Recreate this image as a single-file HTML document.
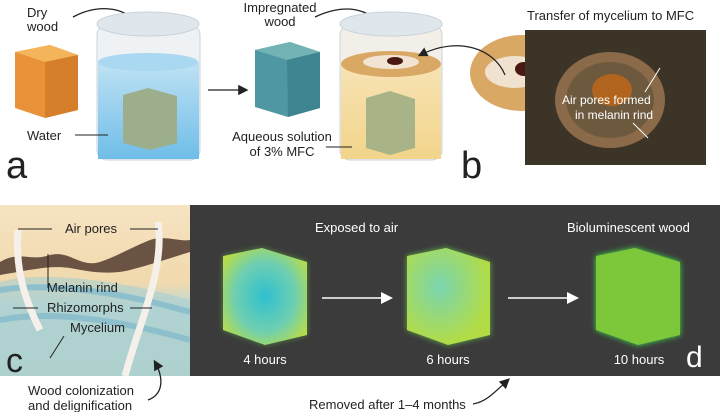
<!DOCTYPE html>
<html><head><meta charset="utf-8"><style>
body{margin:0;background:#fff}
svg{display:block;font-family:"Liberation Sans",sans-serif}
</style></head><body>
<svg width="720" height="412" viewBox="0 0 720 412" xmlns="http://www.w3.org/2000/svg">
<defs>
<linearGradient id="water" x1="0" y1="0" x2="0" y2="1"><stop offset="0" stop-color="#bfe2f4"/><stop offset="1" stop-color="#6fbde8"/></linearGradient>
<linearGradient id="yel" x1="0" y1="0" x2="0" y2="1"><stop offset="0" stop-color="#f7e3b4"/><stop offset="1" stop-color="#f2d48a"/></linearGradient>
<linearGradient id="bgc" x1="0" y1="0" x2="0" y2="1"><stop offset="0" stop-color="#f6e3c2"/><stop offset="0.45" stop-color="#f1d9ad"/><stop offset="0.6" stop-color="#bcd9d6"/><stop offset="1" stop-color="#b7d3c9"/></linearGradient>
<radialGradient id="c1" cx="0.5" cy="0.5" r="0.6"><stop offset="0" stop-color="#2fc0d0"/><stop offset="0.6" stop-color="#6fcfb0"/><stop offset="1" stop-color="#b6dc4a"/></radialGradient>
<radialGradient id="c2" cx="0.4" cy="0.4" r="0.6"><stop offset="0" stop-color="#7ad5b0"/><stop offset="1" stop-color="#b2dc46"/></radialGradient>
<filter id="glow"><feGaussianBlur stdDeviation="3"/></filter>
<marker id="ah" markerWidth="8" markerHeight="8" refX="6" refY="4" orient="auto"><path d="M0,0 L8,4 L0,8z" fill="#222"/></marker>
<marker id="aw" markerWidth="8" markerHeight="8" refX="6" refY="4" orient="auto"><path d="M0,0 L8,4 L0,8z" fill="#fff"/></marker>
</defs>

<!-- Panel a -->
<text x="27" y="17" font-size="13" fill="#222">Dry</text>
<text x="27" y="31" font-size="13" fill="#222">wood</text>
<path d="M73,17 C100,2 130,8 140,28" fill="none" stroke="#222" stroke-width="1.3" marker-end="url(#ah)"/>
<polygon points="15,52 50,45 78,55 78,110 45,118 15,108" fill="#e9923a"/>
<polygon points="15,52 50,45 78,55 45,62" fill="#f3b45a"/>
<polygon points="45,62 78,55 78,110 45,118" fill="#d67f2a"/>
<rect x="97" y="25" width="103" height="135" rx="10" fill="#eef2f5" stroke="#c9d3da"/>
<rect x="98" y="62" width="101" height="97" fill="url(#water)"/>
<ellipse cx="148" cy="62" rx="50" ry="9" fill="#a9d8f0"/>
<ellipse cx="148" cy="24" rx="51" ry="12" fill="#dfe6ec" stroke="#c9d3da"/>
<polygon points="123,95 148,88 177,96 177,143 150,150 123,143" fill="#9cae8c"/>
<text x="27" y="140" font-size="13" fill="#222">Water</text>
<line x1="75" y1="135" x2="108" y2="135" stroke="#222"/>
<line x1="208" y1="90" x2="246" y2="90" stroke="#222" stroke-width="1.3" marker-end="url(#ah)"/>
<polygon points="255,50 290,42 320,52 320,108 288,117 255,107" fill="#4f98a3"/>
<polygon points="255,50 290,42 320,52 287,60" fill="#73b3b6"/>
<polygon points="287,60 320,52 320,108 288,117" fill="#3f8591"/>
<text x="280" y="12" font-size="13" fill="#222" text-anchor="middle">Impregnated</text>
<text x="280" y="26" font-size="13" fill="#222" text-anchor="middle">wood</text>
<path d="M315,17 C345,3 370,8 382,28" fill="none" stroke="#222" stroke-width="1.3" marker-end="url(#ah)"/>
<rect x="340" y="25" width="102" height="135" rx="10" fill="#f2efe8" stroke="#c9d3da"/>
<rect x="341" y="66" width="100" height="93" fill="url(#yel)"/>
<ellipse cx="391" cy="24" rx="51" ry="12" fill="#dfe6ec" stroke="#c9d3da"/>
<ellipse cx="391" cy="64" rx="50" ry="13" fill="#d9a864"/>
<ellipse cx="391" cy="62" rx="28" ry="7" fill="#f5efe6" opacity="0.85"/>
<ellipse cx="395" cy="61" rx="8" ry="4" fill="#4a1810"/>
<polygon points="366,98 390,91 415,99 415,148 390,155 366,148" fill="#a8b488"/>
<text x="282" y="141" font-size="13" fill="#222" text-anchor="middle">Aqueous solution</text>
<text x="282" y="156" font-size="13" fill="#222" text-anchor="middle">of 3% MFC</text>
<line x1="326" y1="147" x2="352" y2="147" stroke="#222"/>
<ellipse cx="522" cy="73" rx="52" ry="38" fill="#d9a864"/>
<ellipse cx="515" cy="72" rx="30" ry="16" fill="#f3ece2" opacity="0.85"/>
<ellipse cx="524" cy="69" rx="9" ry="7" fill="#4a1810"/>
<path d="M505,75 C495,50 460,35 420,55" fill="none" stroke="#222" stroke-width="1.2" marker-end="url(#ah)"/>
<rect x="525" y="30" width="181" height="135" fill="#3d3428"/>
<ellipse cx="610" cy="100" rx="55" ry="48" fill="#8a6a48"/>
<ellipse cx="610" cy="100" rx="44" ry="38" fill="#6d5a3e"/>
<ellipse cx="612" cy="90" rx="20" ry="16" fill="#b0641e"/>
<text x="562" y="104" font-size="12" fill="#fff">Air pores formed</text>
<text x="575" y="119" font-size="12" fill="#fff">in melanin rind</text>
<line x1="645" y1="92" x2="660" y2="68" stroke="#fff"/><line x1="633" y1="123" x2="648" y2="138" stroke="#fff"/>
<text x="527" y="20" font-size="13" fill="#222">Transfer of mycelium to MFC</text>
<text x="6" y="178" font-size="38" fill="#222">a</text>
<text x="461" y="178" font-size="38" fill="#222">b</text>

<!-- Panel c -->
<rect x="0" y="205" width="190" height="171" fill="url(#bgc)"/>
<path d="M0,282 C40,270 120,280 190,300 L190,376 L0,376z" fill="#a9cfd0" opacity="0.6"/>
<path d="M0,290 C50,282 120,292 190,312" stroke="#8dc0cc" stroke-width="6" fill="none"/>
<path d="M0,320 C50,310 120,320 190,340" stroke="#8dc0cc" stroke-width="6" fill="none"/>
<path d="M0,262 C20,250 30,262 50,255 C70,250 80,268 100,262 C120,255 130,248 150,240 C165,235 180,242 190,240 L190,252 C170,258 150,265 130,270 C110,275 90,272 70,268 C50,265 30,270 0,275z" fill="#6b5344"/>
<path d="M18,230 C15,270 25,300 40,330" stroke="#f5f1ea" stroke-width="7" fill="none"/>
<path d="M158,222 C165,270 140,320 125,376" stroke="#f5f1ea" stroke-width="7" fill="none"/>
<text x="65" y="233" font-size="13" fill="#222">Air pores</text>
<line x1="18" y1="229" x2="52" y2="229" stroke="#222"/><line x1="130" y1="229" x2="158" y2="229" stroke="#222"/>
<line x1="48" y1="254" x2="48" y2="288" stroke="#222"/>
<text x="47" y="292" font-size="13" fill="#222">Melanin rind</text>
<text x="47" y="312" font-size="13" fill="#222">Rhizomorphs</text>
<line x1="13" y1="308" x2="38" y2="308" stroke="#222"/><line x1="130" y1="308" x2="152" y2="308" stroke="#222"/>
<text x="70" y="332" font-size="13" fill="#222">Mycelium</text>
<line x1="64" y1="336" x2="50" y2="358" stroke="#222"/>
<text x="6" y="372" font-size="34" fill="#222">c</text>
<text x="28" y="395" font-size="13" fill="#222">Wood colonization</text>
<text x="28" y="410" font-size="13" fill="#222">and delignification</text>
<path d="M148,400 C162,395 165,380 155,362" fill="none" stroke="#222" stroke-width="1.3" marker-end="url(#ah)"/>

<!-- Panel d -->
<rect x="190" y="205" width="530" height="171" fill="#3b3b3b"/>
<text x="315" y="232" font-size="13" fill="#fff">Exposed to air</text>
<text x="567" y="232" font-size="13" fill="#fff">Bioluminescent wood</text>
<polygon points="223,256 262,248 307,262 307,335 265,345 223,330" fill="#6ed24a" filter="url(#glow)" opacity="0.5"/>
<polygon points="223,256 262,248 307,262 307,335 265,345 223,330" fill="url(#c1)"/>
<polygon points="407,256 446,248 490,262 490,335 448,345 407,330" fill="#6ed24a" filter="url(#glow)" opacity="0.8"/>
<polygon points="407,256 446,248 490,262 490,335 448,345 407,330" fill="url(#c2)"/>
<polygon points="596,256 635,248 680,262 680,335 638,345 596,330" fill="#3fe34a" filter="url(#glow)"/>
<polygon points="596,256 635,248 680,262 680,335 638,345 596,330" fill="#7cc83a"/>
<line x1="322" y1="298" x2="390" y2="298" stroke="#fff" stroke-width="1.5" marker-end="url(#aw)"/>
<line x1="508" y1="298" x2="576" y2="298" stroke="#fff" stroke-width="1.5" marker-end="url(#aw)"/>
<text x="265" y="364" font-size="13" fill="#fff" text-anchor="middle">4 hours</text>
<text x="448" y="364" font-size="13" fill="#fff" text-anchor="middle">6 hours</text>
<text x="639" y="364" font-size="13" fill="#fff" text-anchor="middle">10 hours</text>
<text x="686" y="367" font-size="30" fill="#fff">d</text>
<text x="309" y="409" font-size="13" fill="#222">Removed after 1–4 months</text>
<path d="M473,404 C485,402 492,395 508,380" fill="none" stroke="#222" stroke-width="1.3" marker-end="url(#ah)"/>
</svg>
</body></html>
